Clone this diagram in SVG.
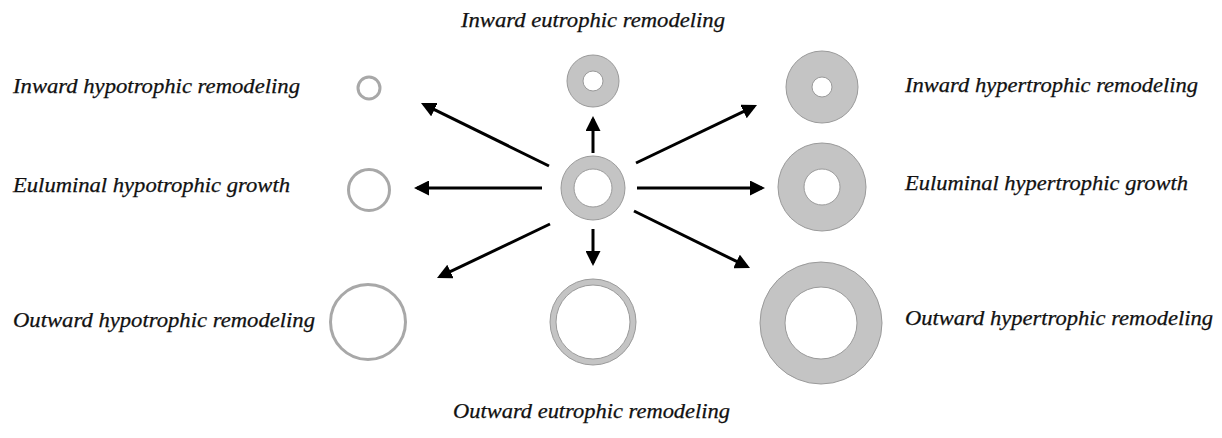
<svg xmlns="http://www.w3.org/2000/svg" width="1222" height="438" viewBox="0 0 1222 438">
<style>
.lbl{font-family:"Liberation Serif","Times New Roman",serif;font-style:italic;font-size:20px;fill:#111;stroke:#111;stroke-width:0.25}
.ring{fill:#c4c4c4;stroke:#9a9a9a;stroke-width:1}
.lumen{fill:#ffffff;stroke:#9a9a9a;stroke-width:1}
.thin{fill:none;stroke:#a8a8a8;stroke-width:3}
.arr{stroke:#000;stroke-width:3;fill:none;marker-end:url(#ah)}
</style>
<defs>
<marker id="ah" viewBox="0 0 15 15" markerWidth="15" markerHeight="15" refX="12" refY="7.5" orient="auto" markerUnits="userSpaceOnUse">
<path d="M0,0 L15,7.5 L0,15 z" fill="#000"/>
</marker>
</defs>
<rect width="1222" height="438" fill="#fff"/>
<g id="center">
<circle class="ring" cx="593" cy="188" r="32"/>
<circle class="lumen" cx="593" cy="188" r="19"/>
</g>
<g id="inward-eutrophic">
<circle class="ring" cx="593" cy="81" r="26"/>
<circle class="lumen" cx="593" cy="81" r="10"/>
<text class="lbl" x="461" y="27" textLength="264" lengthAdjust="spacingAndGlyphs">Inward eutrophic remodeling</text>
</g>
<g id="outward-eutrophic">
<circle class="ring" cx="593" cy="322" r="43"/>
<circle class="lumen" cx="593" cy="322" r="37"/>
<text class="lbl" x="453" y="418" textLength="277" lengthAdjust="spacingAndGlyphs">Outward eutrophic remodeling</text>
</g>
<g id="inward-hypotrophic">
<circle class="thin" cx="369" cy="88" r="11"/>
<text class="lbl" x="13" y="93" textLength="287" lengthAdjust="spacingAndGlyphs">Inward hypotrophic remodeling</text>
</g>
<g id="euluminal-hypotrophic">
<circle class="thin" cx="369" cy="190" r="20.5"/>
<text class="lbl" x="13" y="192" textLength="277" lengthAdjust="spacingAndGlyphs">Euluminal hypotrophic growth</text>
</g>
<g id="outward-hypotrophic">
<circle class="thin" cx="368" cy="322" r="37.5"/>
<text class="lbl" x="13" y="327" textLength="302" lengthAdjust="spacingAndGlyphs">Outward hypotrophic remodeling</text>
</g>
<g id="inward-hypertrophic">
<circle class="ring" cx="822" cy="87" r="36"/>
<circle class="lumen" cx="822" cy="87" r="10"/>
<text class="lbl" x="905" y="92" textLength="293" lengthAdjust="spacingAndGlyphs">Inward hypertrophic remodeling</text>
</g>
<g id="euluminal-hypertrophic">
<circle class="ring" cx="822" cy="187" r="44"/>
<circle class="lumen" cx="822" cy="187" r="18"/>
<text class="lbl" x="905" y="190" textLength="283" lengthAdjust="spacingAndGlyphs">Euluminal hypertrophic growth</text>
</g>
<g id="outward-hypertrophic">
<circle class="ring" cx="821" cy="323" r="61"/>
<circle class="lumen" cx="821" cy="323" r="36"/>
<text class="lbl" x="905" y="325" textLength="308" lengthAdjust="spacingAndGlyphs">Outward hypertrophic remodeling</text>
</g>
<g id="connectors">
<line class="arr" x1="549" y1="166" x2="423.7" y2="104.3"/>
<line class="arr" x1="542" y1="188" x2="417" y2="188"/>
<line class="arr" x1="593" y1="153" x2="593" y2="119"/>
<line class="arr" x1="593" y1="229" x2="593" y2="263"/>
<line class="arr" x1="550" y1="224" x2="439.7" y2="276.7"/>
<line class="arr" x1="636" y1="163" x2="754.3" y2="106.3"/>
<line class="arr" x1="637" y1="188" x2="762" y2="188"/>
<line class="arr" x1="634" y1="211" x2="747.3" y2="266.7"/>
</g>
</svg>
